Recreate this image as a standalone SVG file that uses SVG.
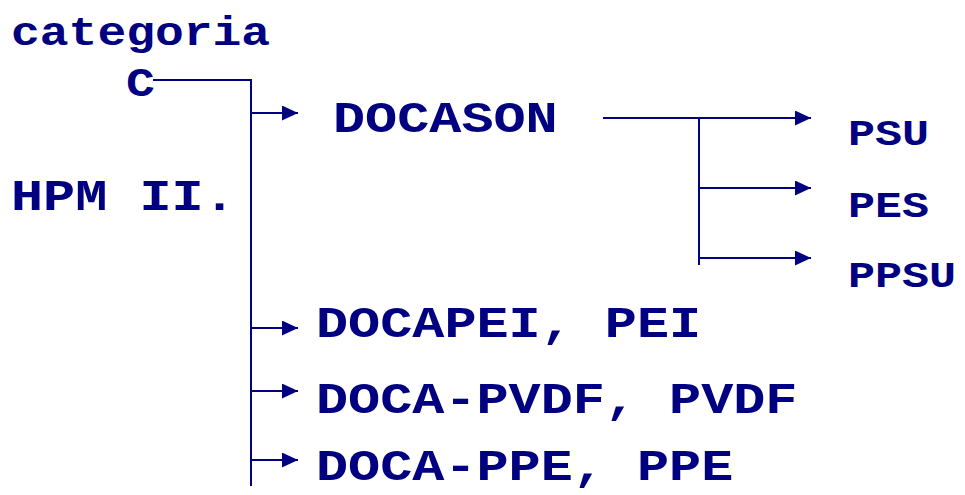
<svg xmlns="http://www.w3.org/2000/svg" width="965" height="495" viewBox="0 0 965 495">
  <style>
    .t { font-family: "Liberation Mono", "Courier New", monospace; font-weight: bold; fill: #000080; }
    .big { font-size: 53.5px; }
    .mid { font-size: 48px; }
    .sm { font-size: 45px; }
    .ln { stroke: #000080; stroke-width: 2; fill: none; }
  </style>
  <defs>
    <marker id="ah" markerUnits="userSpaceOnUse" markerWidth="16" markerHeight="15" refX="16" refY="7.5" orient="auto">
      <path d="M0,0 L16,7.5 L0,15 z" fill="#000080"/>
    </marker>
  </defs>
  <rect width="965" height="495" fill="#ffffff"/>

  <g id="connectors">
    <path class="ln" d="M153,80 H251 V486"/>
    <path class="ln" d="M251,113 H298" marker-end="url(#ah)"/>
    <path class="ln" d="M251,328 H298" marker-end="url(#ah)"/>
    <path class="ln" d="M251,391 H298" marker-end="url(#ah)"/>
    <path class="ln" d="M251,460 H298" marker-end="url(#ah)"/>
    <path class="ln" d="M603,118 H811" marker-end="url(#ah)"/>
    <path class="ln" d="M699,118 V265"/>
    <path class="ln" d="M699,188 H811" marker-end="url(#ah)"/>
    <path class="ln" d="M699,258 H811" marker-end="url(#ah)"/>
  </g>

  <g id="node-categoria">
    <text class="t mid" transform="translate(11,45) scale(1,0.84)">categoria</text>
    <text class="t mid" transform="translate(126,96) scale(1,0.84)">C</text>
  </g>
  <g id="node-hpm">
    <text class="t big" transform="translate(11,210) scale(1,0.84)">HPM II.</text>
  </g>
  <g id="node-docason">
    <text class="t big" transform="translate(333,132) scale(1,0.84)">DOCASON</text>
  </g>
  <g id="node-psu">
    <text class="t sm" transform="translate(848,145) scale(1,0.84)">PSU</text>
  </g>
  <g id="node-pes">
    <text class="t sm" transform="translate(848,217) scale(1,0.84)">PES</text>
  </g>
  <g id="node-ppsu">
    <text class="t sm" transform="translate(848,287) scale(1,0.84)">PPSU</text>
  </g>
  <g id="node-docapei">
    <text class="t big" transform="translate(316,337) scale(1,0.84)">DOCAPEI, PEI</text>
  </g>
  <g id="node-docapvdf">
    <text class="t big" transform="translate(316,413) scale(1,0.84)">DOCA-PVDF, PVDF</text>
  </g>
  <g id="node-docappe">
    <text class="t big" transform="translate(316,480) scale(1,0.84)">DOCA-PPE, PPE</text>
  </g>
</svg>
